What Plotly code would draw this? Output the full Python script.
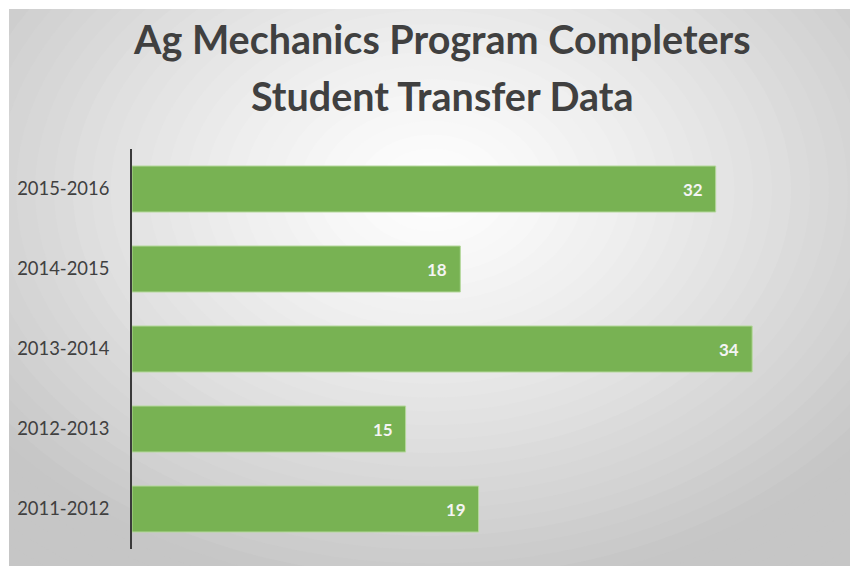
import plotly.graph_objects as go

# ---- data ----
categories = ["2011-2012", "2012-2013", "2013-2014", "2014-2015", "2015-2016"]
values = [19, 15, 34, 18, 32]
title_lines = ["Ag Mechanics Program Completers", "Student Transfer Data"]

# ---- figure geometry (pixels) ----
W, H = 850, 566
ML, MR, MT, MB = 132, 20, 149, 17
PW, PH = W - ML - MR, H - MT - MB
XMAX = PW / 18.24

def px2paper_x(px):
    return (px - ML) / PW

def px2paper_y(py):
    return (H - MB - py) / PH

# ---- radial gradient background via layered ellipses ----
shapes = []
cx, cy, rx, ry = 432, 190, 560, 410
N = 40
RMAX = 1.35
edge, center = 198, 255
for k in range(N, 0, -1):
    r = RMAX * k / N
    t = min(r, 1.0) ** 1.2
    c = int(round(center - (center - edge) * t))
    shapes.append(dict(
        type="circle", xref="paper", yref="paper", layer="below",
        x0=px2paper_x(cx - r * rx), x1=px2paper_x(cx + r * rx),
        y0=px2paper_y(cy + r * ry), y1=px2paper_y(cy - r * ry),
        fillcolor=f"rgb({c},{c},{c})", line=dict(width=0)))
# white border strips (top and left)
shapes.append(dict(type="rect", xref="paper", yref="paper", layer="below",
                   x0=px2paper_x(0), x1=px2paper_x(W), y0=px2paper_y(9), y1=px2paper_y(0),
                   fillcolor="white", line=dict(width=0)))
shapes.append(dict(type="rect", xref="paper", yref="paper", layer="below",
                   x0=px2paper_x(0), x1=px2paper_x(9), y0=px2paper_y(H), y1=px2paper_y(0),
                   fillcolor="white", line=dict(width=0)))

fig = go.Figure()
fig.add_trace(go.Bar(
    x=values, y=categories, orientation="h",
    marker=dict(color="#78b253", line=dict(color="#b5d89c", width=1)),
    hoverinfo="x+y",
))

annotations = []
for cat, v in zip(categories, values):
    annotations.append(dict(
        x=v, y=cat, xref="x", yref="y", text=f"<b>{v}</b>",
        showarrow=False, xanchor="right", xshift=-11,
        font=dict(family="Lato", size=17, color="#f4f4f4")))

for line_text, ypx in zip(title_lines, [38.5, 95.5]):
    annotations.append(dict(
        x=px2paper_x(442), y=px2paper_y(ypx), xref="paper", yref="paper",
        text="<b>" + line_text + "</b>",
        showarrow=False, xanchor="center", yanchor="middle", align="center",
        font=dict(family="Lato", size=39.5, color="#404040")))

fig.update_layout(
    width=W, height=H,
    margin=dict(l=ML, r=MR, t=MT, b=MB),
    paper_bgcolor="rgb(198,198,198)",
    plot_bgcolor="rgba(0,0,0,0)",
    bargap=0.425,
    showlegend=False,
    shapes=shapes,
    annotations=annotations,
    xaxis=dict(range=[0, XMAX], visible=False, showgrid=False, zeroline=False),
    yaxis=dict(range=[-0.5, 4.5], showgrid=False, zeroline=False,
               showline=True, linecolor="#3a3a3a", linewidth=2,
               ticks="outside", ticklen=17, tickcolor="rgba(0,0,0,0)",
               tickfont=dict(family="Lato", size=18.4, color="#404040")),
)

fig.write_html("out.html",
               config={"displayModeBar": False},
               post_script=("document.body.style.margin='0';"
                            "document.body.style.overflow='hidden';"
                            "document.body.style.background='rgb(198,198,198)';"
                            "document.documentElement.style.background='rgb(198,198,198)';"))
